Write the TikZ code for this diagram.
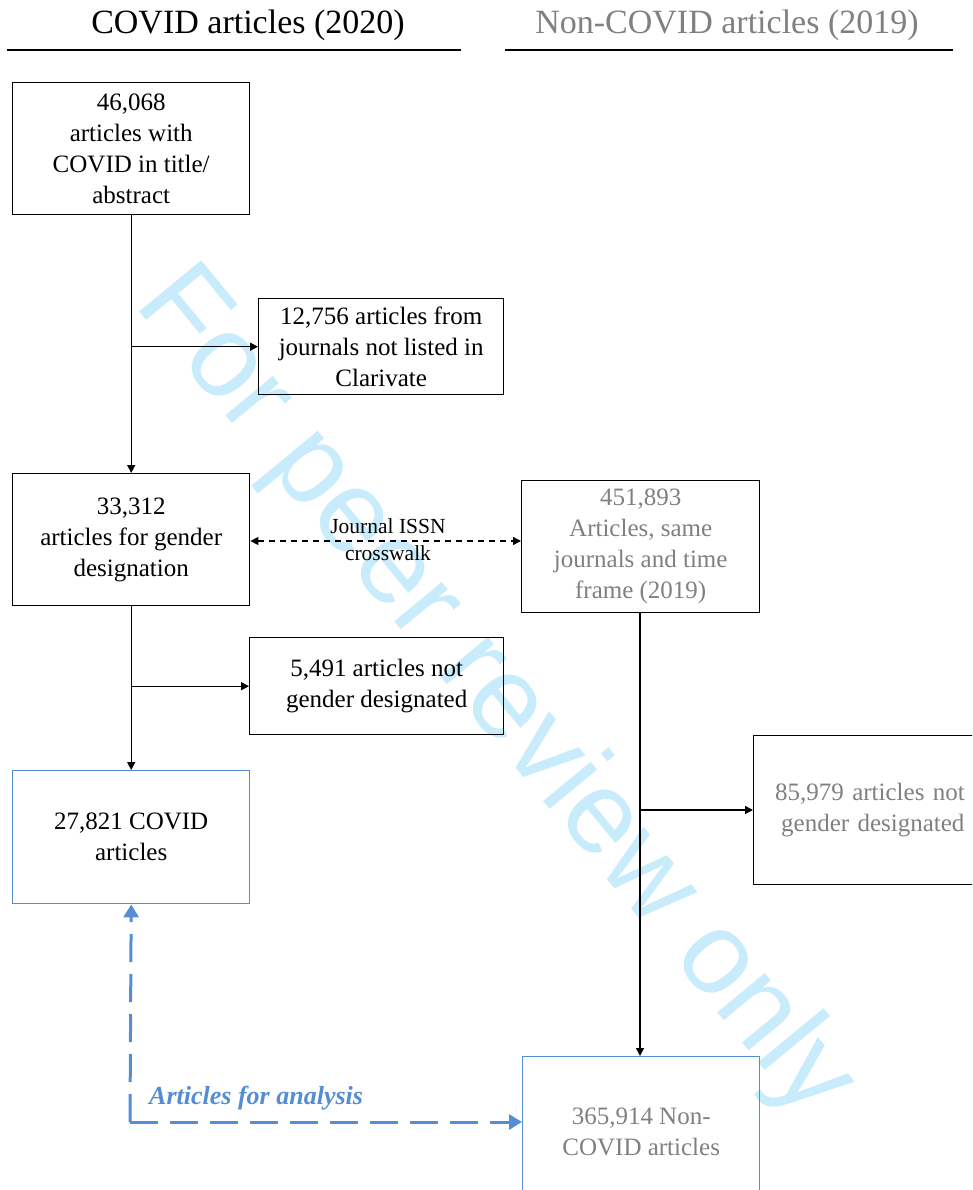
\documentclass[tikz,border=0pt]{standalone}
\usepackage{fontspec}
\setmainfont{Liberation Serif}
\newfontfamily\wmfont{Liberation Sans}
\usetikzlibrary{arrows.meta}
\definecolor{grayt}{RGB}{128,128,128}
\definecolor{blueb}{RGB}{84,141,212}
\definecolor{wm}{RGB}{200,236,252}
\tikzset{
  box/.style={draw=black, line width=1.4pt, align=center, inner sep=0pt, anchor=north west, font=\fontsize{25}{31}\selectfont},
  bbox/.style={box, draw=blueb},
  conn/.style={line width=1.4pt, -{Triangle[length=8pt,width=8pt]}},
  hdr/.style={font=\fontsize{34}{40}\selectfont},
  lbl/.style={font=\fontsize{21.5}{24}\selectfont, inner sep=1pt},
}
\begin{document}
\begin{tikzpicture}[x=1pt,y=-1pt]
\useasboundingbox (0,0) rectangle (972,1190);
\clip (0,0) rectangle (972,1190);
% watermark
\node[wm, rotate=-50.5, font=\wmfont\fontsize{117}{117}\selectfont] (wmk) at (494,694) {For peer review only};
% headers
\node[hdr] (h1) at (248,25) {COVID articles (2020)};
\node[hdr, text=grayt] (h2) at (727,25) {Non-COVID articles (2019)};
\draw[line width=1.5pt] (7,50) -- (461,50);
\draw[line width=1.5pt] (505,50) -- (953,50);
% boxes
\node[box, minimum width=237pt, minimum height=132pt] (A) at (12,82) {46,068\\articles with\\COVID in title/\\abstract};
\node[box, minimum width=245pt, minimum height=96pt] (B) at (258,298) {12,756 articles from\\journals not listed in\\Clarivate};
\node[box, minimum width=237pt, minimum height=132pt] (C) at (12,473) {33,312\\articles for gender\\designation};
\node[box, text=grayt, minimum width=238pt, minimum height=132pt] (D) at (521,480) {451,893\\Articles, same\\journals and time\\frame (2019)};
\node[box, minimum width=254pt, minimum height=97pt] (E) at (249,637) {5,491 articles not\\gender designated};
\node[box, text=grayt, minimum width=230pt, minimum height=149pt, text width=219pt, align=left] (F) at (753,735) {\hspace*{16pt}85,979 articles not\\\hspace*{22pt}gender designated};
\node[bbox, minimum width=237pt, minimum height=133pt] (G) at (12,770) {27,821 COVID\\articles};
\node[bbox, text=grayt, minimum width=237pt, minimum height=150pt] (H) at (522,1056) {365,914 Non-\\COVID articles};
% connectors
\draw[conn] (A.south) -- (C.north);
\coordinate (b1) at (A.south |- B.west);
\draw[conn] (b1) -- (B.west);
\draw[conn] (C.south) -- (G.north);
\coordinate (b2) at (C.south |- E.west);
\draw[conn] (b2) -- (E.west);
\draw[line width=1.4pt, dash pattern=on 6pt off 5pt, {Triangle[length=8pt,width=8pt]}-{Triangle[length=8pt,width=8pt]}] (C.east |- 0,541) coordinate (c1) -- (D.west |- 0,541) coordinate (d1);
\node[lbl] (jl1) at (388,526) {Journal ISSN};
\node[lbl] (jl2) at (388,553) {crosswalk};
\coordinate (dcol) at (640,612);
\draw[conn] (dcol) -- (dcol |- H.north);
\coordinate (b3) at (640,810);
\draw[conn] (b3) -- (b3 -| F.west);
% blue dashed
\coordinate (corner) at (130,1122);
\draw[line width=3pt, blueb, dash pattern=on 28pt off 12pt, -{Triangle[length=13pt,width=15pt]}] (corner) -- (G.south);
\draw[line width=3pt, blueb, dash pattern=on 28pt off 12pt, -{Triangle[length=13pt,width=15pt]}] (corner) -- (corner -| H.west);
\node[text=blueb, font=\bfseries\itshape\fontsize{26}{30}\selectfont, anchor=west, inner sep=0pt] (al) at (149,1098) {Articles for analysis};
\end{tikzpicture}
\end{document}
